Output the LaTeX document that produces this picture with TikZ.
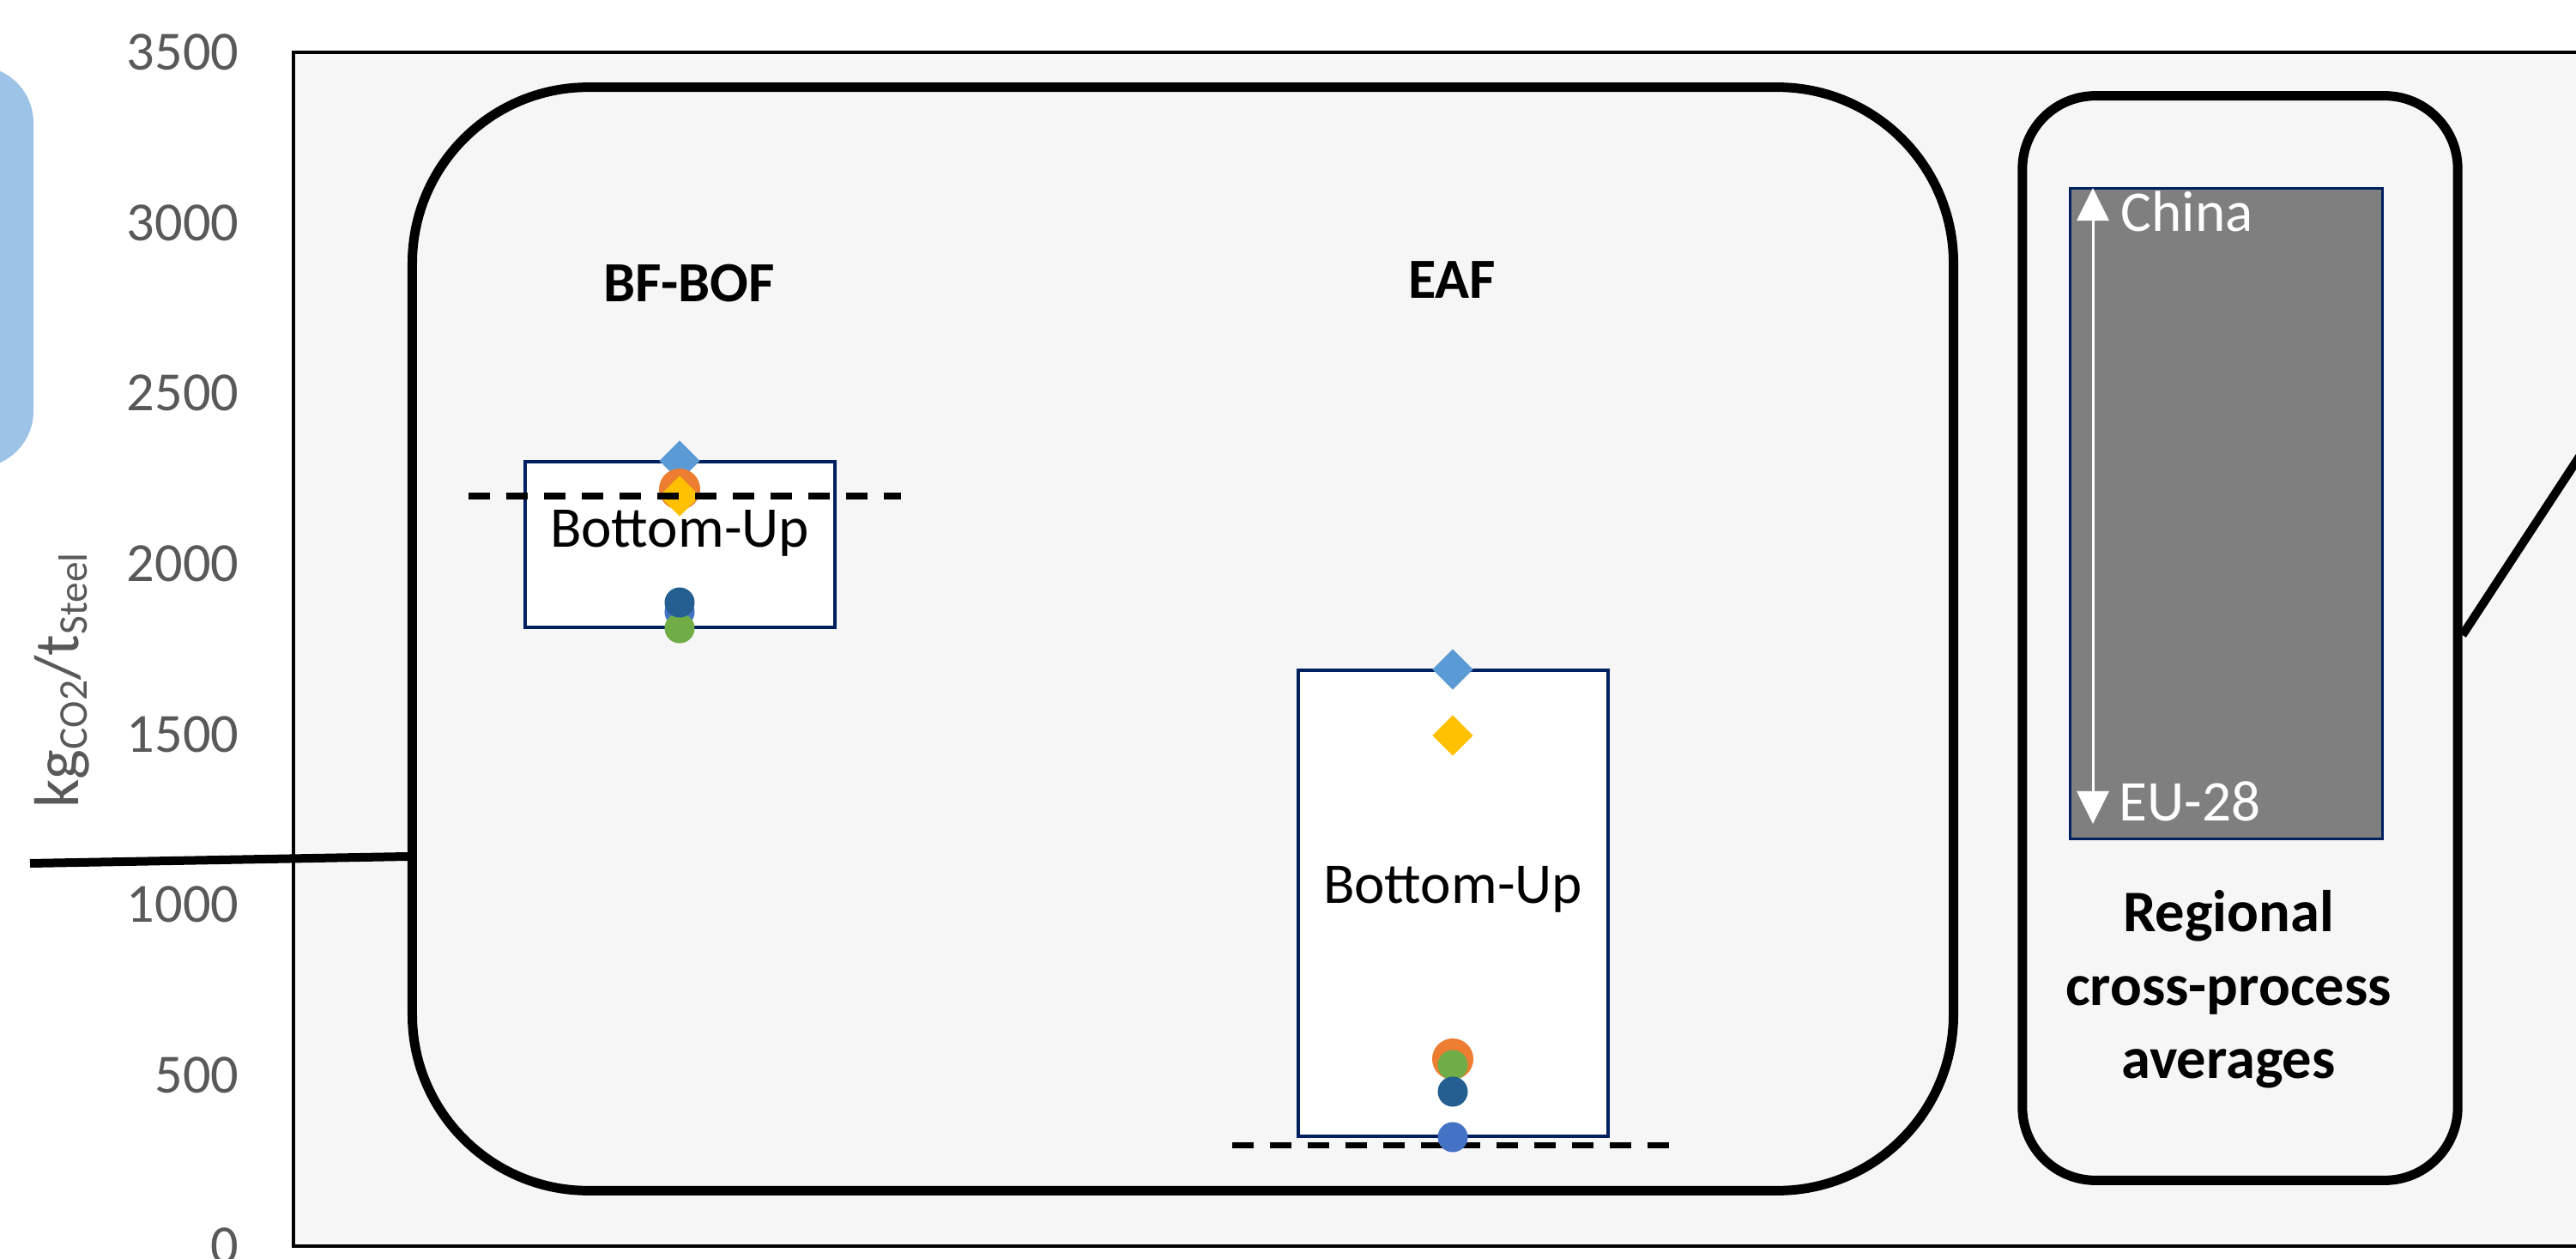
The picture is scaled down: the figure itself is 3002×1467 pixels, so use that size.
\documentclass[tikz,border=0pt]{standalone}
\usepackage{fontspec}
\setmainfont{Carlito}
\usetikzlibrary{shapes.geometric,arrows.meta}

\definecolor{panelgray}{HTML}{F6F6F6}
\definecolor{navy}{HTML}{002060}
\definecolor{axisgray}{HTML}{595959}
\definecolor{capblue}{HTML}{9DC3E6}
\definecolor{rangegray}{HTML}{7F7F7F}
\definecolor{mLightBlue}{HTML}{5B9BD5}
\definecolor{mOrange}{HTML}{ED7D31}
\definecolor{mYellow}{HTML}{FFC000}
\definecolor{mDarkBlue}{HTML}{255E91}
\definecolor{mBlue}{HTML}{4472C4}
\definecolor{mGreen}{HTML}{70AD47}

\newcommand{\subtxt}[1]{\raisebox{-3.1pt}{\fontsize{13.5}{16}\selectfont #1}}

\tikzset{
	procbox/.style={draw, line width=0.11cm, inner sep=0pt},
	bubox/.style={draw=navy, line width=0.035cm, fill=white, minimum width=3.61cm, inner sep=0pt},
	refline/.style={line width=0.07cm, dash pattern=on 0.25cm off 0.19cm},
	conn/.style={line width=0.1cm},
	dia/.style={diamond, inner sep=0pt, minimum size=0.48cm},
	bigdot/.style={circle, inner sep=0pt, minimum size=0.48cm},
	smalldot/.style={circle, inner sep=0pt, minimum size=0.35cm},
	ticklab/.style={text=axisgray, font=\fontsize{18.3}{22}\selectfont, inner sep=0pt, anchor=east},
	boxlab/.style={font=\fontsize{19.1}{23}\selectfont, inner sep=0pt, anchor=base},
	headlab/.style={font=\fontsize{18.8}{23}\selectfont\bfseries, inner sep=0pt, anchor=base},
}

\begin{document}
\begin{tikzpicture}[x=0.01cm, y=-0.01cm]
			\useasboundingbox (0,0) rectangle (3002,1467);
			
			% Blue shape cut by the left edge
			\fill[capblue, rounded corners=0.66cm] (-200,77) rectangle (39,545);
			
			% Plot area
			\draw[line width=0.04cm, fill=panelgray] (342,61) rectangle (3040,1452);
			
			% Process and regional frames
			\node[procbox, minimum width=17.95cm, minimum height=12.85cm, rounded corners=2.05cm] (procs) at (1378.5,744.5) {};
			\node[procbox, minimum width=5.07cm, minimum height=12.63cm, rounded corners=0.85cm] (regbox) at (2610.5,743.5) {};
			
			% Lines leading out of the frames
			\coordinate (leftend) at (35,1006);
			\coordinate (rightend) at (3040,480);
			\draw[conn] (leftend) -- (procs.west |- 0,998);
			\draw[conn] (regbox.east |- 0,740) -- (rightend);
			
			% BF-BOF column
			\node[headlab] (bfhead) at (803,352) {BF-BOF};
			\node[bubox, minimum height=1.93cm] (bfbox) at (792.5,634.5) {};
			\node[boxlab] (bflab) at (792,637) {Bottom-Up};
			\foreach \n/\s/\c/\y in {bfA/smalldot/mBlue/713, bfB/smalldot/mGreen/732, bfC/smalldot/mDarkBlue/702, bfD/dia/mLightBlue/537, bfE/bigdot/mOrange/570, bfF/dia/mYellow/578}
			\node[\s, fill=\c] (\n) at (792,\y) {};
			\draw[refline] (546,578) -- (1050,578);
			
			% EAF column
			\node[headlab] (eafhead) at (1692,348) {EAF};
			\node[bubox, minimum height=5.43cm] (eafbox) at (1693.5,1052.5) {};
			\node[boxlab] (eaflab) at (1693,1052) {Bottom-Up};
			\draw[refline] (1436,1334) -- (1947,1334);
			\foreach \n/\s/\c/\y in {eafA/dia/mLightBlue/780, eafB/dia/mYellow/857, eafC/bigdot/mOrange/1234, eafD/smalldot/mGreen/1241, eafE/smalldot/mDarkBlue/1272, eafF/smalldot/mBlue/1325}
			\node[\s, fill=\c] (\n) at (1693,\y) {};
			
			% Regional range
			\node[draw=navy, line width=0.03cm, fill=rangegray, minimum width=3.63cm, minimum height=7.57cm, inner sep=0pt] (range) at (2594.5,598.5) {};
			\coordinate (chinatip) at (2439,219);
			\coordinate (eutip) at (2439,960);
			\draw[white, line width=0.03cm, {Triangle[length=0.38cm,width=0.37cm]}-{Triangle[length=0.38cm,width=0.37cm]}] (chinatip) -- (eutip);
			\node[boxlab, anchor=base west, text=white] (china) at (2471,270) {China};
			\node[boxlab, anchor=base west, text=white] (eu) at (2469,956) {EU-28};
			\node[font=\fontsize{19.5}{24.3}\selectfont\bfseries, align=center, anchor=north, inner sep=0pt] (regional) at (2597,1037) {Regional\\cross-process\\averages};
			
			% Axis
			\foreach \v in {0,500,...,3500}
			\node[ticklab] (tick\v) at (279,{1451.7-0.3974*\v}) {\v};
			\node[rotate=90, anchor=base, text=axisgray, font=\fontsize{21}{25}\selectfont, inner sep=0pt] (ylab) at (91,793) {kg\subtxt{CO2}/t\subtxt{Steel}};
		\end{tikzpicture}
\end{document}
